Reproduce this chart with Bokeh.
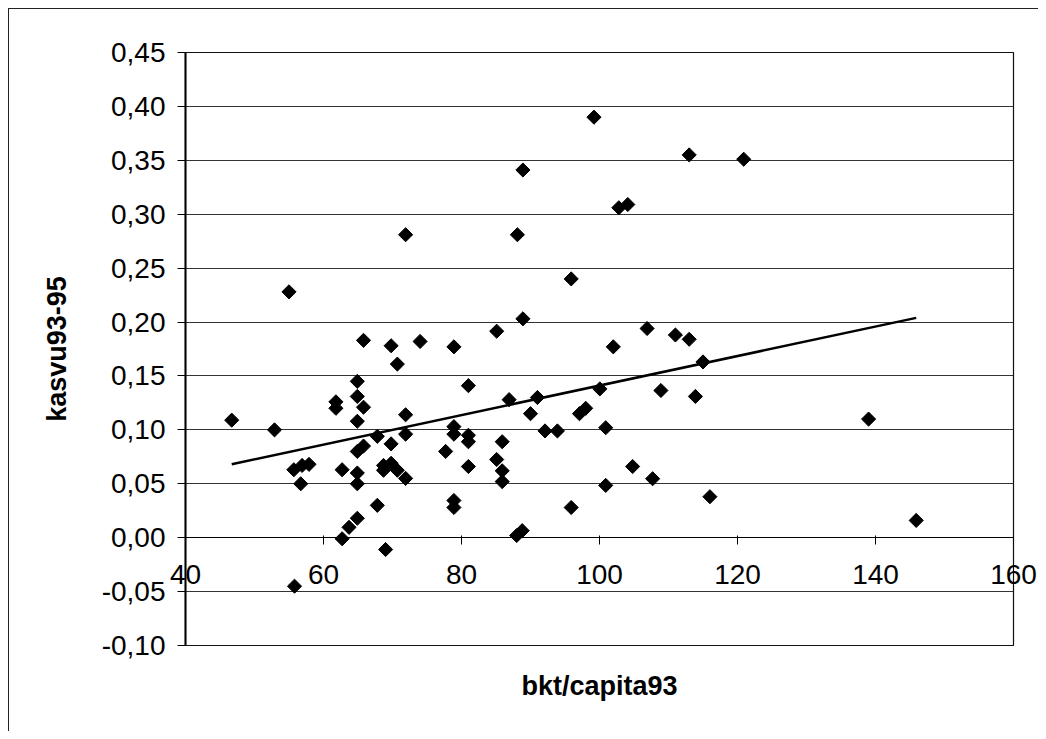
import numpy as np
from bokeh.plotting import figure
from bokeh.layouts import column
from bokeh.models import FixedTicker, CustomJSTickFormatter, ColumnDataSource, LinearAxis
from bokeh.embed import file_html
from bokeh.resources import INLINE

# ---- data ----
bkt_capita93 = [
    46.7, 52.9, 55.0, 55.7, 56.9, 57.9, 56.7, 55.8, 61.8, 61.8,
    62.7, 62.7, 63.7, 64.9, 64.9, 65.8, 64.9, 65.8, 64.9, 64.9,
    64.9, 64.9, 65.8, 67.8, 67.8, 68.7, 69.8, 68.7, 69.0, 69.8,
    69.8, 70.7, 70.7, 71.9, 71.9, 71.9, 71.9, 74.0, 77.7, 78.9,
    78.9, 78.9, 78.9, 78.9, 81.0, 81.0, 81.0, 81.0, 85.1, 85.1,
    85.9, 85.9, 85.9, 86.9, 88.0, 88.8, 88.1, 88.9, 88.9, 90.0,
    91.0, 92.1, 93.9, 95.9, 95.9, 97.1, 98.0, 99.2, 100.05, 100.9,
    100.9, 102.0, 102.8, 104.1, 104.8, 106.9, 107.7, 108.9, 111.0, 113.0,
    113.0, 113.9, 115.0, 116.0, 120.9, 139.0, 145.9,
]
kasvu93_95 = [
    0.109, 0.100, 0.228, 0.063, 0.067, 0.068, 0.050, -0.045, 0.126, 0.120,
    0.063, -0.001, 0.0096, 0.145, 0.131, 0.121, 0.108, 0.085, 0.080, 0.060,
    0.050, 0.018, 0.183, 0.094, 0.030, 0.067, 0.069, 0.0625, -0.011, 0.178,
    0.087, 0.161, 0.0625, 0.114, 0.096, 0.055, 0.281, 0.182, 0.080, 0.177,
    0.103, 0.096, 0.0345, 0.028, 0.141, 0.095, 0.089, 0.066, 0.1915, 0.0725,
    0.089, 0.062, 0.052, 0.128, 0.002, 0.0065, 0.281, 0.341, 0.203, 0.115,
    0.130, 0.099, 0.099, 0.240, 0.028, 0.115, 0.120, 0.390, 0.138, 0.102,
    0.0485, 0.177, 0.306, 0.309, 0.066, 0.194, 0.0547, 0.1365, 0.188, 0.184,
    0.355, 0.131, 0.163, 0.038, 0.351, 0.110, 0.016,
]
x_ticks = [40, 60, 80, 100, 120, 140, 160]
y_ticks = [-0.10, -0.05, 0.00, 0.05, 0.10, 0.15, 0.20, 0.25, 0.30, 0.35, 0.40, 0.45]
x_title = "bkt/capita93"
y_title = "kasvu93-95"

# linear trend line computed from the data
slope, intercept = np.polyfit(bkt_capita93, kasvu93_95, 1)
trend_x = [min(bkt_capita93), max(bkt_capita93)]
trend_y = [slope * v + intercept for v in trend_x]

FONT = "Liberation Sans"

p = figure(
    width=1029, height=722,
    x_range=(40, 160), y_range=(-0.10, 0.45),
    output_backend="svg", toolbar_location=None,
    min_border_left=176, min_border_right=25,
    min_border_top=43, min_border_bottom=86,
)
p.background_fill_color = "white"
p.border_fill_color = "white"
p.outline_line_color = "#111111"
p.outline_line_width = 1.2

# grid
p.xgrid.visible = False
p.ygrid.ticker = FixedTicker(ticks=y_ticks)
p.ygrid.grid_line_color = "#333333"
p.ygrid.grid_line_width = 1

# y axis
ya = p.yaxis[0]
ya.ticker = FixedTicker(ticks=y_ticks)
ya.formatter = CustomJSTickFormatter(code="return tick.toFixed(2).replace('.', ',');")
ya.axis_line_color = "black"
ya.axis_line_width = 2
ya.major_tick_out = 8
ya.major_tick_in = 0
ya.minor_tick_line_color = None
ya.major_label_standoff = 12
ya.major_label_text_font = FONT
ya.major_label_text_font_size = "28px"
ya.major_label_text_color = "black"
ya.axis_label = y_title
ya.axis_label_text_font = FONT
ya.axis_label_text_font_style = "bold"
ya.axis_label_text_font_size = "27px"
ya.axis_label_text_color = "black"
ya.axis_label_standoff = 27

# x axis line + ticks crossing at y = 0 (no labels)
xa = p.xaxis[0]
xa.fixed_location = 0
xa.ticker = FixedTicker(ticks=x_ticks)
xa.axis_line_color = "black"
xa.axis_line_width = 1
xa.major_tick_out = 7
xa.major_tick_in = 2
xa.minor_tick_line_color = None
xa.major_label_text_font_size = "0px"
xa.major_label_text_color = None

# x tick labels + title drawn from the bottom panel
xb = LinearAxis(ticker=FixedTicker(ticks=x_ticks))
xb.axis_line_color = None
xb.major_tick_line_color = None
xb.minor_tick_line_color = None
xb.major_tick_out = 0
xb.major_tick_in = 0
xb.major_label_standoff = -81
xb.major_label_text_font = FONT
xb.major_label_text_font_size = "28px"
xb.major_label_text_color = "black"
xb.axis_label = x_title
xb.axis_label_text_font = FONT
xb.axis_label_text_font_style = "bold"
xb.axis_label_text_font_size = "27px"
xb.axis_label_text_color = "black"
xb.axis_label_standoff = 84
p.add_layout(xb, "below")

src = ColumnDataSource(dict(x=bkt_capita93, y=kasvu93_95))
p.scatter("x", "y", source=src, marker="square", size=10, angle=np.pi / 4,
          fill_color="black", line_color="black")
p.line(trend_x, trend_y, line_color="black", line_width=2.5)

root = column(p, styles={"margin-left": "8px", "margin-top": "8px",
                         "border-left": "1px solid #222", "border-top": "1px solid #222"})
open("out.html", "w").write(file_html(root, INLINE))
